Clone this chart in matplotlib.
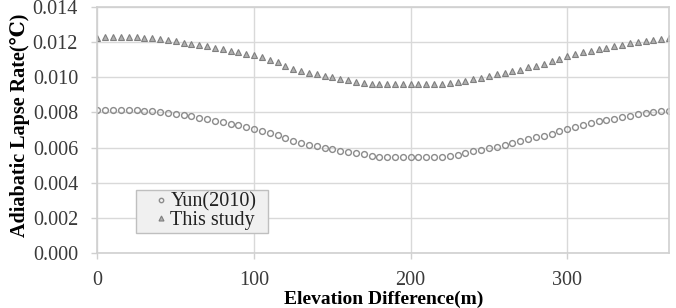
import numpy as np
import matplotlib
matplotlib.use("Agg")
import matplotlib.pyplot as plt

plt.rcParams['font.family'] = ['Liberation Serif', 'DejaVu Serif']
plt.rcParams['mathtext.fontset'] = 'stix'

# Elevation difference (m), every 5 m from 0 to 365
elevation = list(range(0, 370, 5))

yun_2010 = [
    0.00813, 0.00813, 0.00814, 0.00816, 0.00814, 0.00813, 0.00810, 0.00808,
    0.00804, 0.00798, 0.00791, 0.00785, 0.00777, 0.00769, 0.00761, 0.00752,
    0.00744, 0.00736, 0.00727, 0.00717, 0.00705, 0.00692, 0.00681, 0.00669,
    0.00655, 0.00640, 0.00626, 0.00616, 0.00609, 0.00600, 0.00591, 0.00583,
    0.00575, 0.00568, 0.00561, 0.00553, 0.00548, 0.00546, 0.00545, 0.00545,
    0.00545, 0.00545, 0.00546, 0.00547, 0.00549, 0.00553, 0.00560, 0.00568,
    0.00578, 0.00587, 0.00597, 0.00603, 0.00614, 0.00625, 0.00635, 0.00647,
    0.00658, 0.00668, 0.00678, 0.00694, 0.00706, 0.00718, 0.00727, 0.00738,
    0.00749, 0.00756, 0.00764, 0.00773, 0.00782, 0.00790, 0.00797, 0.00802,
    0.00806, 0.00810,
]

this_study = [
    0.01226, 0.01227, 0.01228, 0.01231, 0.01229, 0.01227, 0.01225, 0.01221,
    0.01218, 0.01212, 0.01204, 0.01197, 0.01191, 0.01185, 0.01176, 0.01168,
    0.01161, 0.01152, 0.01143, 0.01135, 0.01124, 0.01113, 0.01100, 0.01086,
    0.01063, 0.01047, 0.01035, 0.01025, 0.01018, 0.01008, 0.01000, 0.00989,
    0.00983, 0.00973, 0.00966, 0.00962, 0.00960, 0.00960, 0.00960, 0.00960,
    0.00960, 0.00960, 0.00960, 0.00961, 0.00963, 0.00966, 0.00973, 0.00981,
    0.00991, 0.00995, 0.01008, 0.01017, 0.01027, 0.01033, 0.01043, 0.01058,
    0.01065, 0.01075, 0.01090, 0.01104, 0.01119, 0.01132, 0.01142, 0.01150,
    0.01161, 0.01169, 0.01177, 0.01186, 0.01194, 0.01202, 0.01208, 0.01212,
    0.01216, 0.01221,
]

x_ticks = [0, 100, 200, 300]
y_ticks = [0.000, 0.002, 0.004, 0.006, 0.008, 0.010, 0.012, 0.014]
series_labels = ["Yun(2010)", "This study"]
x_label = "Elevation Difference(m)"
y_label = "Adiabatic Lapse Rate(\u2103)"

W, H = 676, 308
fig = plt.figure(figsize=(W / 100, H / 100), dpi=100)
left, right, top, bottom = 97.5, 669, 7, 253
ax = fig.add_axes([left / W, 1 - bottom / H, (right - left) / W, (bottom - top) / H])

ax.plot(elevation, yun_2010, linestyle='none', marker='o', markersize=4.2,
        markerfacecolor='none', markeredgecolor='#8c8c8c', markeredgewidth=1.0,
        label=series_labels[0])
ax.plot(elevation, this_study, linestyle='none', marker='^', markersize=4.8,
        markerfacecolor='#b0b0b0', markeredgecolor='#7f7f7f', markeredgewidth=0.8,
        label=series_labels[1])

ax.set_xlim(0, 365)
ax.set_ylim(0, 0.014)
ax.set_xticks(x_ticks)
ax.set_yticks(y_ticks)
ax.set_yticklabels([f"{v:.3f}" for v in y_ticks])
ax.grid(True, color='#d9d9d9', linewidth=1.0)
ax.set_axisbelow(True)
for s in ax.spines.values():
    s.set_color('#d0d0d0')
    s.set_linewidth(1.2)
ax.tick_params(axis='both', direction='out', length=4, width=1.0, color='#d0d0d0',
               labelsize=14.5, labelcolor='#3a3a3a')
ax.tick_params(axis='x', pad=9)
ax.tick_params(axis='y', pad=10)

ax.set_xlabel(x_label, fontsize=14, fontweight='bold', va='center')
ax.xaxis.set_label_coords(0.5, -0.19)
ax.set_ylabel(y_label, fontsize=14.5, fontweight='bold', va='center')
ax.yaxis.set_label_coords(-0.135, 0.52)

leg_x0 = (136 - left) / (right - left)
leg_w = (268 - 136) / (right - left)
leg_y0 = (bottom - 233) / (bottom - top)
leg_h = (233 - 190) / (bottom - top)
leg = ax.legend(loc='lower left', bbox_to_anchor=(leg_x0, leg_y0, leg_w, leg_h),
                mode='expand', borderaxespad=0,
                fontsize=14.5, frameon=True, fancybox=False, handlelength=2.2,
                handletextpad=-0.65, labelspacing=-0.05, borderpad=0.15,
                markerscale=0.75)
leg.get_frame().set_facecolor('#f0f0f0')
leg.get_frame().set_edgecolor('#bfbfbf')
leg.get_frame().set_alpha(1)
for t in leg.get_texts():
    t.set_color('#222222')

fig.savefig('out.png', dpi=100)
